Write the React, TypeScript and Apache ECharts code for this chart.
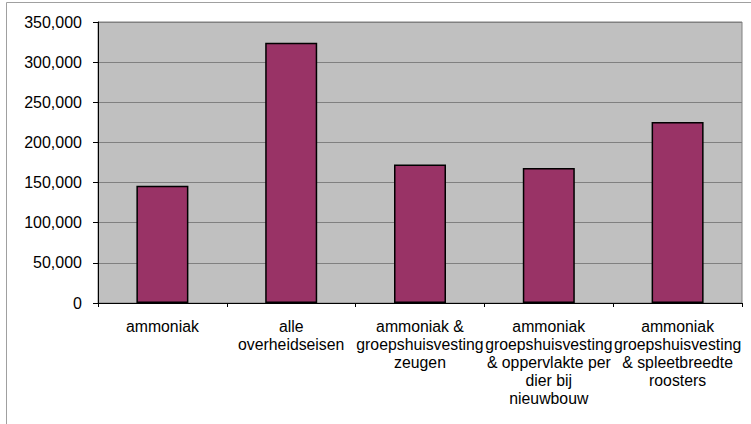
import React, { useEffect, useRef } from "react";
import * as echarts from "echarts";

const categories = [
  "ammoniak",
  "alle\noverheidseisen",
  "ammoniak &\ngroepshuisvesting\nzeugen",
  "ammoniak\ngroepshuisvesting\n& oppervlakte per\ndier bij\nnieuwbouw",
  "ammoniak\ngroepshuisvesting\n& spleetbreedte\nroosters",
];
const values = [146000, 324000, 172500, 168300, 225500];
const yMin = 0;
const yMax = 350000;
const yInterval = 50000;

const FONT = "'Liberation Sans', Arial, sans-serif";

export default function App() {
  const ref = useRef<HTMLDivElement>(null);
  useEffect(() => {
    if (!ref.current) return;
    const chart = echarts.init(ref.current, undefined, { renderer: "svg" });
    chart.setOption({
      animation: false,
      backgroundColor: "#ffffff",
      textStyle: { fontFamily: FONT },
      graphic: [
        {
          type: "rect",
          shape: { x: 6.5, y: 2.5, width: 900, height: 600 },
          style: { fill: "none", stroke: "#a0a0a0", lineWidth: 1 },
          silent: true,
          z: -1,
        },
      ],
      grid: {
        left: 98,
        top: 22,
        width: 644,
        height: 281,
        show: true,
        backgroundColor: "#C0C0C0",
        borderColor: "#808080",
        borderWidth: 1,
        containLabel: false,
      },
      xAxis: {
        type: "category",
        data: categories,
        boundaryGap: true,
        axisLine: { show: true, lineStyle: { color: "#000", width: 1 } },
        axisTick: { show: true, length: 4, lineStyle: { color: "#000" } },
        axisLabel: {
          interval: 0,
          margin: 15,
          color: "#000",
          fontSize: 15.8,
          lineHeight: 17.8,
          fontFamily: FONT,
          align: "center",
        },
        splitLine: { show: false },
      },
      yAxis: {
        type: "value",
        min: yMin,
        max: yMax,
        interval: yInterval,
        axisLine: { show: true, lineStyle: { color: "#000", width: 1 } },
        axisTick: { show: true, length: 5, lineStyle: { color: "#000" } },
        axisLabel: {
          margin: 16,
          color: "#000",
          fontSize: 16,
          fontFamily: FONT,
          formatter: (v: number) => v.toLocaleString("en-US"),
        },
        splitLine: { show: true, lineStyle: { color: "#808080", width: 1 } },
      },
      series: [
        {
          type: "bar",
          data: values,
          barWidth: 52,
          itemStyle: {
            color: "#993366",
            borderColor: "#000",
            borderWidth: 1.5,
          },
        },
      ],
    });
    return () => chart.dispose();
  }, []);
  return (
    <div
      ref={ref}
      style={{ position: "fixed", left: 0, top: 0, width: 751, height: 424 }}
    />
  );
}
